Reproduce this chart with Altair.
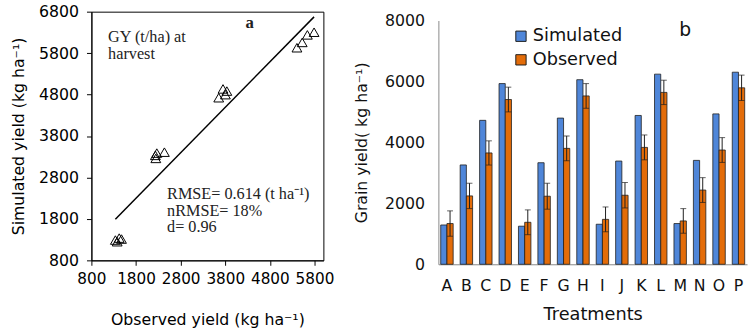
import altair as alt
import pandas as pd

# Grain yield per treatment (kg/ha)
treatments = list("ABCDEFGHIJKLMNOP")
simulated = [1290, 3260, 4724, 5930, 1250, 3333, 4798, 6058,
             1314, 3388, 4884, 6240, 1337, 3410, 4936, 6304]
observed = [1337, 2244, 3654, 5407, 1378, 2234, 3804, 5525,
            1474, 2266, 3836, 5641, 1423, 2436, 3750, 5791]
observed_err = [416, 416, 397, 406, 407, 426, 407, 405,
                407, 417, 408, 400, 404, 407, 407, 417]

series_names = ["Simulated", "Observed"]
series_colors = ["#4f86d9", "#e36c09"]

x_ticks = [800, 1800, 2800, 3800, 4800, 5800]
y_ticks = [800, 1800, 2800, 3800, 4800, 5800, 6800]
bar_ticks = [0, 1000, 2000, 3000, 4000, 5000, 6000, 7000, 8000]

SANS = "DejaVu Sans"
SERIF = "Liberation Serif"

pairs = pd.DataFrame({"treatment": treatments, "observed": observed, "simulated": simulated})

# ---------- panel a: simulated vs observed ----------
xs = alt.X("observed:Q", scale=alt.Scale(domain=[800, 6000], nice=False, zero=False),
           axis=alt.Axis(values=x_ticks, format="d", title="Observed yield (kg ha⁻¹)", grid=False,
                         labelFont=SANS, labelFontSize=15.5, labelColor="black",
                         titleFont=SANS, titleFontSize=16, titleFontWeight="normal",
                         titleColor="black", titlePadding=25, labelPadding=7,
                         domainColor="black", tickColor="black", tickSize=5,
                         labelFlush=False, labelOverlap=False))
ys = alt.Y("simulated:Q", scale=alt.Scale(domain=[800, 6800], nice=False, zero=False),
           axis=alt.Axis(values=y_ticks, format="d", title="Simulated yield (kg ha⁻¹)", grid=False,
                         labelFont=SANS, labelFontSize=16, labelColor="black",
                         titleFont=SANS, titleFontSize=16, titleFontWeight="normal",
                         titleColor="black", titlePadding=12, labelPadding=8,
                         domainColor="black", tickColor="black", tickSize=5,
                         labelFlush=False, labelOverlap=False))

points = alt.Chart(pairs).mark_point(shape="triangle-up", size=100, filled=False,
                                     color="black", strokeWidth=1, opacity=1).encode(x=xs, y=ys)

fit_line = alt.Chart(pairs).transform_regression("observed", "simulated").mark_line(
    color="black", strokeWidth=1.5).encode(x="observed:Q", y="simulated:Q")

notes = pd.DataFrame({
    "observed": [1174, 2496, 4346],
    "simulated": [6071, 2282, 6400],
    "label": [["GY (t/ha) at", "harvest"],
              ["RMSE= 0.614 (t ha⁻¹)", "nRMSE= 18%", "d= 0.96"],
              ["a"]],
})
note_text = alt.Chart(notes.iloc[:2]).mark_text(
    font=SERIF, fontSize=16.5, align="left", baseline="alphabetic",
    lineHeight=17, color="#222").encode(x="observed:Q", y="simulated:Q", text="label")
panel_label = alt.Chart(notes.iloc[2:]).mark_text(
    font=SERIF, fontSize=17, fontWeight="bold", align="center", baseline="alphabetic",
    color="#222").encode(x="observed:Q", y="simulated:Q", text="label")

left = alt.layer(fit_line, points, note_text, panel_label).properties(
    width=236, height=253,
    view=alt.ViewBackground(stroke="black", strokeWidth=1))

# ---------- panel b: grouped bars ----------
rows = []
for t, s, o, e in zip(treatments, simulated, observed, observed_err):
    rows.append({"treatment": t, "series": "Simulated", "value": s, "lo": s, "hi": s})
    rows.append({"treatment": t, "series": "Observed", "value": o, "lo": o - e, "hi": o + e})
bars_df = pd.DataFrame(rows)

bx = alt.X("treatment:N", scale=alt.Scale(paddingInner=0.36, paddingOuter=0.12),
           axis=alt.Axis(title="Treatments", labelAngle=0, ticks=False, domainColor="#888",
                         labelFont=SANS, labelFontSize=16, labelColor="#111", labelPadding=14,
                         titleFont=SANS, titleFontSize=18, titleFontWeight="normal",
                         titleColor="#111", titlePadding=12))
by_scale = alt.Scale(domain=[0, 8000], range=[257, 9], nice=False)
by_axis = alt.Axis(values=bar_ticks, format="d", title="Grain yield( kg ha⁻¹)", grid=False,
                   ticks=False, domainColor="#888", labelFont=SANS, labelFontSize=16,
                   labelColor="#111", labelPadding=14, titleFont=SANS, titleFontSize=16,
                   titleFontWeight="normal", titleColor="#111", titlePadding=15)
xoff = alt.XOffset("series:N", scale=alt.Scale(domain=series_names, paddingInner=0))

bars = alt.Chart(bars_df).mark_bar(stroke="#1e1e1e", strokeWidth=0.8).encode(
    x=bx, xOffset=xoff,
    y=alt.Y("value:Q", scale=by_scale, axis=by_axis),
    color=alt.Color("series:N", scale=alt.Scale(domain=series_names, range=series_colors),
                    legend=alt.Legend(title=None, orient="none", legendX=428, legendY=16,
                                      symbolType="square", symbolSize=110,
                                      symbolStrokeColor="#1e1e1e", symbolStrokeWidth=1,
                                      labelFont=SANS, labelFontSize=18, labelColor="#111",
                                      labelOffset=3, rowPadding=6)),
)

obs_only = alt.Chart(bars_df).transform_filter(alt.datum.series == "Observed")
err_rule = obs_only.mark_rule(color="#1e1e1e", strokeWidth=1).encode(
    x="treatment:N", xOffset=xoff, y=alt.Y("lo:Q", scale=by_scale), y2="hi:Q")
err_top = obs_only.mark_tick(color="#1e1e1e", thickness=1, size=6).encode(
    x="treatment:N", xOffset=xoff, y=alt.Y("hi:Q", scale=by_scale))
err_bot = obs_only.mark_tick(color="#1e1e1e", thickness=1, size=6).encode(
    x="treatment:N", xOffset=xoff, y=alt.Y("lo:Q", scale=by_scale))

b_label = alt.Chart(pd.DataFrame({"treatment": ["M"], "value": [7700], "label": ["b"]})).mark_text(
    font=SANS, fontSize=19, color="#111", baseline="middle", dx=5).encode(
    x="treatment:N", y=alt.Y("value:Q", scale=by_scale), text="label")

right = alt.layer(bars, err_rule, err_top, err_bot, b_label).properties(
    width=314, height=257,
    view=alt.ViewBackground(strokeOpacity=0))

chart = alt.hconcat(left, right, spacing=19).properties(
    padding={"left": 10, "top": 0, "right": 2, "bottom": 0},
    background="white")

chart.save("out.html", embed_options={"renderer": "svg", "actions": False})
